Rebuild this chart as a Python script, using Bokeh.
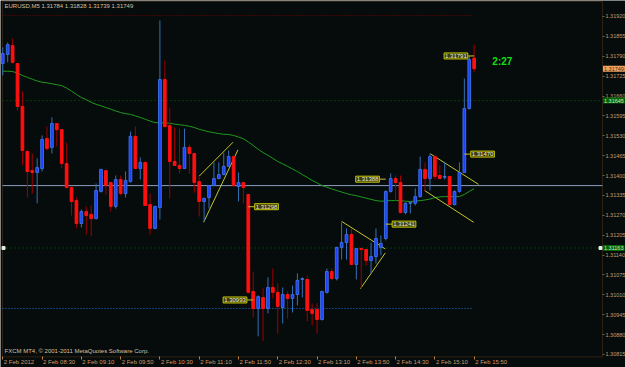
from bokeh.plotting import figure
from bokeh.models import (Range1d, FixedTicker, PrintfTickFormatter, Label, LabelSet,
                          LinearAxis, BoxAnnotation, ColumnDataSource)
from bokeh.core.properties import value
from bokeh.embed import file_html
from bokeh.resources import INLINE

# ---------------- data ----------------
symbol = "EURUSD,M5"
opens = [1.31766, 1.31796, 1.31825, 1.31766, 1.31626, 1.31479, 1.31416, 1.31410, 1.31423, 1.31521,
         1.31492, 1.31570, 1.31550, 1.31439, 1.31361, 1.31318, 1.31243, 1.31282, 1.31273, 1.31259,
         1.31348, 1.31416, 1.31377, 1.31299, 1.31387, 1.31341, 1.31380, 1.31528, 1.31423, 1.31443,
         1.31305, 1.31227, 1.31295, 1.31714, 1.31563, 1.31446, 1.31433, 1.31423, 1.31492, 1.31472,
         1.31380, 1.31315, 1.31328, 1.31367, 1.31390, 1.31403, 1.31430, 1.31462, 1.31364, 1.31377,
         1.31338, 1.31021, 1.30965, 1.31001, 1.30965, 1.31034, 1.31018, 1.30968, 1.31011, 1.30998,
         1.31011, 1.31060, 1.31060, 1.30962, 1.30962, 1.30929, 1.31018, 1.31086, 1.31063, 1.31165,
         1.31181, 1.31207, 1.31109, 1.31161, 1.31158, 1.31122, 1.31135, 1.31165, 1.31194, 1.31348,
         1.31390, 1.31377, 1.31279, 1.31309, 1.31309, 1.31331, 1.31420, 1.31390, 1.31462, 1.31400,
         1.31394, 1.31397, 1.31305, 1.31348, 1.31410, 1.31619, 1.31784]
highs = [1.31819, 1.31835, 1.31848, 1.31768, 1.31675, 1.31480, 1.31472, 1.31456, 1.31531, 1.31560,
         1.31590, 1.31572, 1.31552, 1.31508, 1.31363, 1.31328, 1.31289, 1.31299, 1.31302, 1.31374,
         1.31422, 1.31418, 1.31379, 1.31400, 1.31400, 1.31413, 1.31544, 1.31560, 1.31459, 1.31445,
         1.31341, 1.31301, 1.31907, 1.31776, 1.31622, 1.31557, 1.31553, 1.31553, 1.31501, 1.31474,
         1.31397, 1.31328, 1.31369, 1.31443, 1.31443, 1.31475, 1.31482, 1.31464, 1.31410, 1.31379,
         1.31340, 1.31086, 1.31008, 1.31031, 1.31067, 1.31096, 1.31047, 1.31034, 1.31021, 1.31040,
         1.31080, 1.31067, 1.31073, 1.30982, 1.30982, 1.31023, 1.31096, 1.31096, 1.31167, 1.31246,
         1.31227, 1.31227, 1.31163, 1.31165, 1.31160, 1.31181, 1.31227, 1.31204, 1.31351, 1.31407,
         1.31400, 1.31400, 1.31312, 1.31314, 1.31358, 1.31462, 1.31443, 1.31472, 1.31464, 1.31433,
         1.31443, 1.31399, 1.31351, 1.31443, 1.31717, 1.31791, 1.31828]
lows = [1.31727, 1.31770, 1.31767, 1.31613, 1.31433, 1.31328, 1.31341, 1.31309, 1.31413, 1.31482,
        1.31472, 1.31495, 1.31423, 1.31358, 1.31269, 1.31227, 1.31230, 1.31207, 1.31201, 1.31257,
        1.31344, 1.31338, 1.31282, 1.31292, 1.31335, 1.31328, 1.31377, 1.31421, 1.31387, 1.31300,
        1.31207, 1.31224, 1.31256, 1.31557, 1.31325, 1.31431, 1.31407, 1.31421, 1.31407, 1.31344,
        1.31266, 1.31250, 1.31292, 1.31365, 1.31388, 1.31401, 1.31428, 1.31365, 1.31315, 1.31309,
        1.31014, 1.30936, 1.30874, 1.30860, 1.30949, 1.30998, 1.30883, 1.30916, 1.30932, 1.30952,
        1.30975, 1.31001, 1.30923, 1.30910, 1.30883, 1.30926, 1.31014, 1.31057, 1.31057, 1.31125,
        1.31125, 1.31107, 1.31060, 1.31031, 1.31106, 1.31080, 1.31112, 1.31139, 1.31188, 1.31344,
        1.31318, 1.31276, 1.31273, 1.31276, 1.31302, 1.31328, 1.31351, 1.31351, 1.31387, 1.31388,
        1.31387, 1.31302, 1.31302, 1.31344, 1.31408, 1.31616, 1.31739]
closes = [1.31799, 1.31828, 1.31770, 1.31626, 1.31482, 1.31413, 1.31410, 1.31426, 1.31518, 1.31488,
          1.31570, 1.31550, 1.31439, 1.31361, 1.31315, 1.31243, 1.31282, 1.31269, 1.31259, 1.31351,
          1.31420, 1.31367, 1.31299, 1.31387, 1.31341, 1.31384, 1.31528, 1.31423, 1.31443, 1.31302,
          1.31227, 1.31299, 1.31714, 1.31560, 1.31446, 1.31433, 1.31423, 1.31492, 1.31472, 1.31377,
          1.31315, 1.31325, 1.31367, 1.31390, 1.31403, 1.31430, 1.31462, 1.31367, 1.31377, 1.31361,
          1.31018, 1.30965, 1.31004, 1.30965, 1.31034, 1.31018, 1.30972, 1.31011, 1.30998, 1.31011,
          1.31057, 1.31063, 1.30959, 1.30949, 1.30929, 1.31021, 1.31086, 1.31063, 1.31165, 1.31181,
          1.31207, 1.31109, 1.31161, 1.31158, 1.31122, 1.31135, 1.31194, 1.31178, 1.31348, 1.31390,
          1.31377, 1.31279, 1.31309, 1.31312, 1.31331, 1.31420, 1.31390, 1.31462, 1.31397, 1.31390,
          1.31397, 1.31305, 1.31348, 1.31410, 1.31619, 1.31779, 1.31749]
moving_avg = [1.31741, 1.31741, 1.31740, 1.31735, 1.31727, 1.31721, 1.31715, 1.31709, 1.31705, 1.31703,
              1.31700, 1.31697, 1.31694, 1.31686, 1.31676, 1.31665, 1.31655, 1.31648, 1.31639, 1.31633,
              1.31628, 1.31622, 1.31617, 1.31611, 1.31606, 1.31602, 1.31600, 1.31595, 1.31590, 1.31584,
              1.31578, 1.31573, 1.31572, 1.31572, 1.31571, 1.31568, 1.31566, 1.31564, 1.31561, 1.31557,
              1.31551, 1.31547, 1.31543, 1.31540, 1.31537, 1.31535, 1.31534, 1.31531, 1.31526, 1.31520,
              1.31510, 1.31498, 1.31486, 1.31475, 1.31466, 1.31456, 1.31446, 1.31438, 1.31430, 1.31421,
              1.31413, 1.31403, 1.31394, 1.31384, 1.31376, 1.31367, 1.31362, 1.31356, 1.31351, 1.31346,
              1.31341, 1.31337, 1.31334, 1.31330, 1.31326, 1.31322, 1.31318, 1.31316, 1.31317, 1.31318,
              1.31318, 1.31318, 1.31316, 1.31315, 1.31316, 1.31318, 1.31320, 1.31323, 1.31328, 1.31330,
              1.31331, 1.31331, 1.31331, 1.31331, 1.31338, 1.31348, 1.31357]

price_ticks = [1.31920, 1.31855, 1.31790, 1.31725, 1.31660, 1.31595, 1.31530, 1.31465, 1.31400,
               1.31335, 1.31270, 1.31205, 1.31140, 1.31075, 1.31010, 1.30945, 1.30880, 1.30815]
time_tick_bars = [0, 8, 16, 24, 32, 40, 48, 56, 64, 72, 80, 88, 96]
time_tick_labels = ["2 Feb 2012", "2 Feb 08:30", "2 Feb 09:10", "2 Feb 09:50", "2 Feb 10:30",
                    "2 Feb 11:10", "2 Feb 11:50", "2 Feb 12:30", "2 Feb 13:10", "2 Feb 13:50",
                    "2 Feb 14:30", "2 Feb 15:10", "2 Feb 15:50"]

# trend lines: (bar0, price0) -> (bar1, price1)
trend_bar0 = [40.0, 40.9, 69.0, 72.85, 87.1, 85.9]
trend_p0 = [1.31398, 1.31247, 1.31250, 1.31030, 1.31471, 1.31351]
trend_bar1 = [46.9, 47.9, 77.9, 77.9, 96.9, 95.9]
trend_p1 = [1.31509, 1.31484, 1.31160, 1.31147, 1.31371, 1.31247]

# price marks and the bar each one points at
mark_prices = [1.31791, 1.31298, 1.31388, 1.31241, 1.31470, 1.30993]
mark_bars = [96, 50, 78, 78, 94, 51]
mark_sides = ["left", "right", "left", "right", "right", "left"]

level_red = 1.31923
level_blue = 1.30965
level_green = [1.31645, 1.31163]
level_steel = 1.31367
bid_price = 1.31749
timer_text = "2:27"
header_text = "%s  %.5f %.5f %.5f %.5f" % (symbol, opens[-1], highs[-1], lows[-1], closes[-1])
footer_text = "FXCM MT4, \u00a9 2001-2011 MetaQuotes Software Corp."

# ---------------- layout / styling ----------------
BG = "#060b0b"
FRAME = "#8b5a2b"
AX_TXT = "#cf9a68"
FONT = "Liberation Sans"
FS = "6px"
FS_AX = "5.5px"
YEL = "#c4c430"

# chart box (in bar / price units) inside a full-canvas frame
X0, X1 = -0.467, 126.82
Y0, Y1 = 1.307722, 1.319723
CH_L, CH_R = -0.06, 122.14
CH_T, CH_B = 1.31969, 1.30807
DATE_Y = 1.30789

n = len(opens)
xs = list(range(n))
bull = [c >= o for o, c in zip(opens, closes)]
src = ColumnDataSource(dict(
    x=xs, h=highs, l=lows,
    top=[max(o, c) for o, c in zip(opens, closes)],
    bot=[min(o, c) for o, c in zip(opens, closes)],
    wick=["#3470b8" if b else "#a00000" for b in bull],
    fill=["#1e40ff" if b else "#ff1010" for b in bull],
    line=["#3a6ee0" if b else "#ff1010" for b in bull],
))

p = figure(width=625, height=367, output_backend="svg", toolbar_location=None,
           x_range=Range1d(X0, X1), y_range=Range1d(Y0, Y1),
           x_axis_location=None, y_axis_location=None,
           min_border_left=0, min_border_right=0, min_border_top=0, min_border_bottom=0,
           background_fill_color=BG, border_fill_color=BG, outline_line_color=None)
p.grid.visible = False

ya = LinearAxis(fixed_location=CH_R, ticker=FixedTicker(ticks=price_ticks),
                formatter=PrintfTickFormatter(format="%.5f"))
ya.major_label_text_font = FONT
ya.major_label_text_font_size = FS_AX
ya.major_label_text_color = AX_TXT
ya.major_tick_out = 2
ya.major_tick_in = 0
ya.minor_tick_out = 0
ya.minor_tick_in = 0
ya.major_tick_line_color = FRAME
ya.axis_line_color = None
ya.major_label_standoff = 1
p.add_layout(ya, "right")

# time axis: tick marks from the axis, labels (left-aligned at the tick) as a LabelSet
xa = LinearAxis(fixed_location=CH_B, ticker=FixedTicker(ticks=time_tick_bars))
xa.major_label_text_color = None
xa.major_tick_out = 3
xa.major_tick_in = 0
xa.minor_tick_out = 0
xa.minor_tick_in = 0
xa.major_tick_line_color = "#c08040"
xa.axis_line_color = None
p.add_layout(xa, "below")

date_src = ColumnDataSource(dict(x=time_tick_bars, y=[DATE_Y] * len(time_tick_bars),
                                 text=time_tick_labels))
p.add_layout(LabelSet(x="x", y="y", text="text", source=date_src, text_align="left",
                      text_baseline="middle", x_offset=1, text_font=value(FONT),
                      text_font_size=FS, text_color=AX_TXT))

# chart border
p.add_layout(BoxAnnotation(left=CH_L, right=CH_R, top=CH_T, bottom=CH_B, fill_color=None,
                           line_color=FRAME, line_width=1, level="underlay"))

# horizontal levels
p.segment(x0=[CH_L, CH_L], y0=[level_red, level_blue], x1=[95.7, 95.7],
          y1=[level_red, level_blue], line_color=["#8b0000", "#1e78dc"], line_dash="1 2",
          line_width=1)
p.segment(x0=[CH_L] * len(level_green), y0=level_green, x1=[CH_R] * len(level_green),
          y1=level_green, line_color="#0a6a0a", line_dash="1 3", line_width=1)
p.segment(x0=[CH_L], y0=[level_steel], x1=[CH_R], y1=[level_steel], line_color="#8a9ec0",
          line_width=1)

# moving average
p.line(xs, moving_avg, line_color="#1f9a1f", line_width=1)

# trend lines
p.segment(x0=trend_bar0, y0=trend_p0, x1=trend_bar1, y1=trend_p1, line_color=YEL, line_width=1)

# candles
p.segment(x0="x", y0="h", x1="x", y1="l", line_color="wick", line_width=1, source=src)
p.vbar(x="x", width=0.55, top="top", bottom="bot", fill_color="fill", line_color="line",
       line_width=1, source=src)

# price marks
for price, bar, side in zip(mark_prices, mark_bars, mark_sides):
    d = -1.3 if side == "left" else 1.3
    p.segment(x0=[bar], y0=[price], x1=[bar + d], y1=[price], line_color=YEL, line_width=1)
    p.add_layout(Label(x=bar + d, y=price, text="%.5f" % price,
                       text_align="right" if side == "left" else "left",
                       text_baseline="middle", text_font=FONT, text_font_size=FS,
                       text_color="#f0f0c8", background_fill_color="#3c3c14",
                       border_line_color="#c8c800", border_line_width=1, padding=1))

# markers at the lower green level
p.scatter(x=[0.15, 121.73], y=[level_green[1], level_green[1]], marker="square", size=3,
          color="#e0f0e0")

# axis price boxes
p.add_layout(Label(x=CH_R + 0.1, y=bid_price, text="%.5f" % bid_price, text_align="left",
                   text_baseline="middle", text_font=FONT, text_font_size=FS_AX,
                   text_color="#4a2a08", background_fill_color="#f4a460", padding=1))
for lv in level_green:
    p.add_layout(Label(x=CH_R + 0.1, y=lv, text="%.5f" % lv, text_align="left",
                       text_baseline="middle", text_font=FONT, text_font_size=FS_AX,
                       text_color="#c8e8c8", background_fill_color="#006400", padding=1))

# texts
p.add_layout(Label(x=0.35, y=1.31963, text=header_text, text_align="left", text_baseline="top",
                   text_font=FONT, text_font_size=FS, text_color="#d8c0a0"))
p.add_layout(Label(x=0.35, y=1.30815, text=footer_text, text_align="left",
                   text_baseline="bottom", text_font=FONT, text_font_size=FS,
                   text_color="#d8c0a0"))
p.add_layout(Label(x=99.7, y=1.31774, text=timer_text, text_align="left",
                   text_baseline="middle", text_font=FONT, text_font_size="10px",
                   text_font_style="bold", text_color="#10e010"))

open("out.html", "w").write(file_html(p, INLINE))
